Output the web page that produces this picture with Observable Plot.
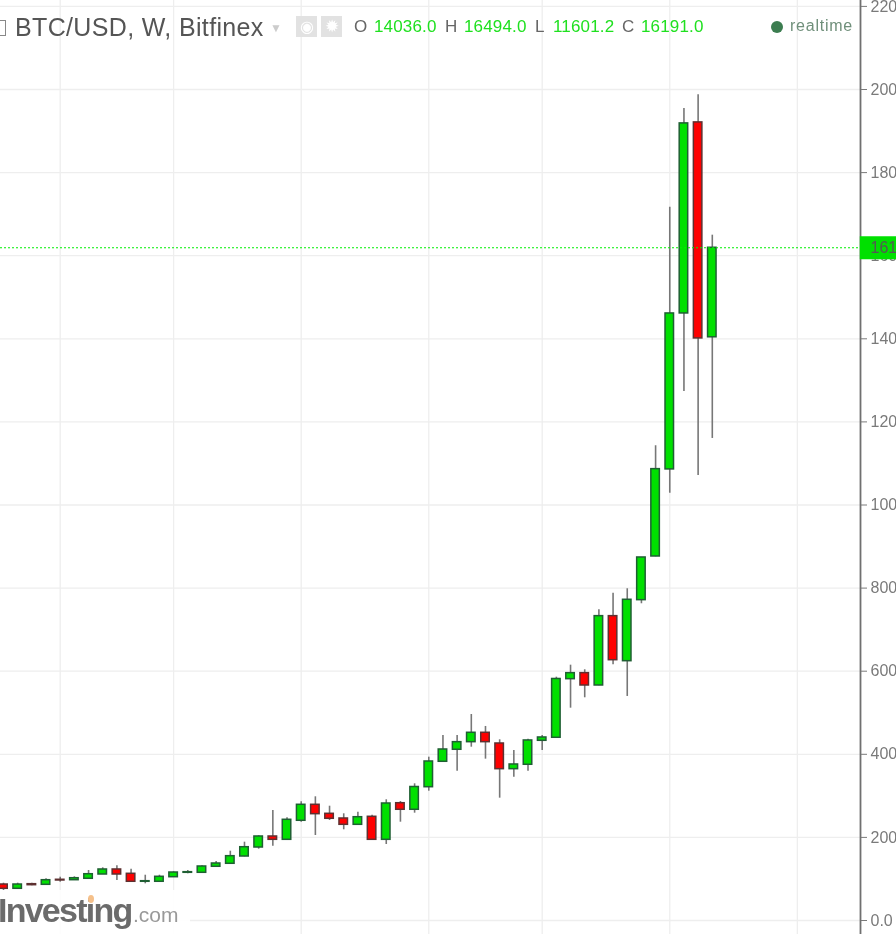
<!DOCTYPE html>
<html><head><meta charset="utf-8">
<script src="https://cdn.jsdelivr.net/npm/d3@7"></script>
<script src="https://cdn.jsdelivr.net/npm/@observablehq/plot@0.6"></script>
<style>
html,body{margin:0;padding:0;background:#fff;overflow:hidden}
#wrap{position:relative;width:896px;height:934px;overflow:hidden;filter:blur(.55px);font-family:"Liberation Sans",Arial,sans-serif}
#wrap svg{display:block;font-family:"Liberation Sans",Arial,sans-serif}
.o{position:absolute;white-space:nowrap;line-height:1}
.g{color:#1fe01f}.l{color:#666}
</style></head><body>
<div id="wrap">
<div id="chart"></div>
<div class="o" style="left:-7px;top:20px;width:11px;height:14px;border:1px solid #888"></div>
<div class="o" id="title" style="left:15px;top:15px;font-size:25px;letter-spacing:.35px;color:#555">BTC/USD, W, Bitfinex</div>
<div class="o" style="left:270px;top:22px;font-size:12px;color:#ccc">▼</div>
<div class="o" style="left:296px;top:16px;width:21px;height:21px;background:#e2e2e2;color:#fff;font-size:16px;text-align:center;line-height:21px">◉</div>
<div class="o" style="left:321px;top:16px;width:21px;height:21px;background:#e2e2e2;color:#fff;font-size:17px;text-align:center;line-height:21px">✹</div>
<div class="o l" style="left:354px;top:18px;font-size:17px">O</div>
<div class="o g" style="left:374px;top:18px;font-size:17px;letter-spacing:.15px">14036.0</div>
<div class="o l" style="left:445px;top:18px;font-size:17px">H</div>
<div class="o g" style="left:464px;top:18px;font-size:17px;letter-spacing:.15px">16494.0</div>
<div class="o l" style="left:535px;top:18px;font-size:17px">L</div>
<div class="o g" style="left:553px;top:18px;font-size:17px;letter-spacing:.15px">11601.2</div>
<div class="o l" style="left:622px;top:18px;font-size:17px">C</div>
<div class="o g" style="left:641px;top:18px;font-size:17px;letter-spacing:.15px">16191.0</div>
<div class="o" style="left:771px;top:21px;width:12px;height:12px;border-radius:50%;background:#3c7d50"></div>
<div class="o" style="left:790px;top:18px;font-size:16px;letter-spacing:.75px;color:#6f8f7a">realtime</div>
<div class="o" style="left:0;top:890px;width:190px;height:44px;background:rgba(255,255,255,.9)"></div>
<div class="o" style="left:-2px;top:893px;font-size:34px;font-weight:bold;letter-spacing:-1.75px;color:#6b6b6b">Investing</div>
<div class="o" style="left:88px;top:895px;width:6px;height:8px;border-radius:50%;background:#f5c08a"></div>
<div class="o" style="left:133px;top:904px;font-size:21px;color:#999">.com</div>
</div>
<script>
const opens  = [866,763,874,859,980,970,1004,1107,1228,1124,932,932,1042,1148,1148,1293,1365,1540,1757,2022,1942,2400,2785,2568,2455,2303,2496,1942,2823,2665,3208,3820,4109,4292,4518,4260,3642,3748,4325,4398,5808,5953,5656,7325,6241,7710,8761,10856,14610,19208,14036];
const highs  = [898,898,898,1004,1042,1052,1204,1268,1317,1235,1090,1090,1172,1204,1317,1420,1668,1885,2039,2648,2472,2857,2977,2751,2568,2607,2535,2905,2864,3290,3931,4453,4453,4958,4670,4349,4092,4364,4453,5856,6145,6034,7478,7878,7984,8737,11426,17169,19545,19875,16494];
const lows   = [722,753,835,850,922,963,994,1107,963,922,883,922,1035,1124,1139,1283,1355,1533,1716,1788,1933,2366,2046,2407,2183,2294,1933,1829,2366,2583,3112,3810,3594,4171,3883,2944,3449,3594,4092,4388,5110,5360,5649,6155,5392,7623,8754,10285,12733,10711,11601.2];
const closes = [763,866,850,970,963,1018,1114,1228,1107,932,946,1052,1155,1163,1300,1372,1548,1764,2022,1942,2424,2785,2559,2448,2303,2486,1942,2816,2665,3213,3827,4116,4292,4518,4292,3642,3755,4333,4405,5813,5953,5656,7325,6265,7719,8737,10863,14610,19184,14009,16191];
const yTicks = [0,2000,4000,6000,8000,10000,12000,14000,16000,18000,20000,22000];
const monthWeeks = [4,12,21,30,38,47,56];
const lastClose = 16191;
const UP="#00e000", DOWN="#ff0000", WICK="#777777";
const candles = opens.map((o,i)=>({i,o,h:highs[i],l:lows[i],c:closes[i]}));

const chart = Plot.plot({
  width:896,height:934,marginTop:0,marginLeft:0,marginBottom:0,marginRight:36,
  x:{type:"linear",domain:[0,50],range:[3,711.8],axis:null},
  y:{type:"linear",domain:[0,20000],range:[920,89],axis:null},
  style:{background:"transparent"},
  marks:[
    Plot.gridY(yTicks,{stroke:"#eeeeee",strokeOpacity:1,strokeWidth:1.3}),
    Plot.gridX(monthWeeks,{stroke:"#eeeeee",strokeOpacity:1,strokeWidth:1.3}),
    Plot.ruleX(candles,{x:"i",y1:"l",y2:"h",stroke:WICK,strokeWidth:1.6}),
    Plot.rect(candles,{x1:d=>d.i-0.3,x2:d=>d.i+0.3,y1:"o",y2:"c",inset:0,
      fill:d=>d.c>=d.o?UP:DOWN,
      stroke:d=>d.c>=d.o?"#1f5f33":"#5e3030",strokeWidth:1.5}),
    Plot.ruleY([lastClose],{stroke:"#00f000",strokeWidth:1.2,strokeDasharray:"2,2"}),
    Plot.frame({anchor:"right",stroke:"#707070",strokeWidth:1.8}),
    Plot.axisY(yTicks,{anchor:"right",tickSize:6,tickPadding:4,fontSize:16,
      color:"#7a7a7a",tickFormat:d=>d.toFixed(1),label:null}),
    Plot.ruleY([lastClose],{x1:()=>60.44,x2:()=>64,stroke:UP,strokeWidth:23}),
    Plot.text([lastClose],{y:d=>d,frameAnchor:"right",dx:10,textAnchor:"start",
      text:d=>d.toFixed(1),fill:"#555",fontSize:16})
  ]
});
document.getElementById("chart").appendChild(chart);
</script>
</body></html>
